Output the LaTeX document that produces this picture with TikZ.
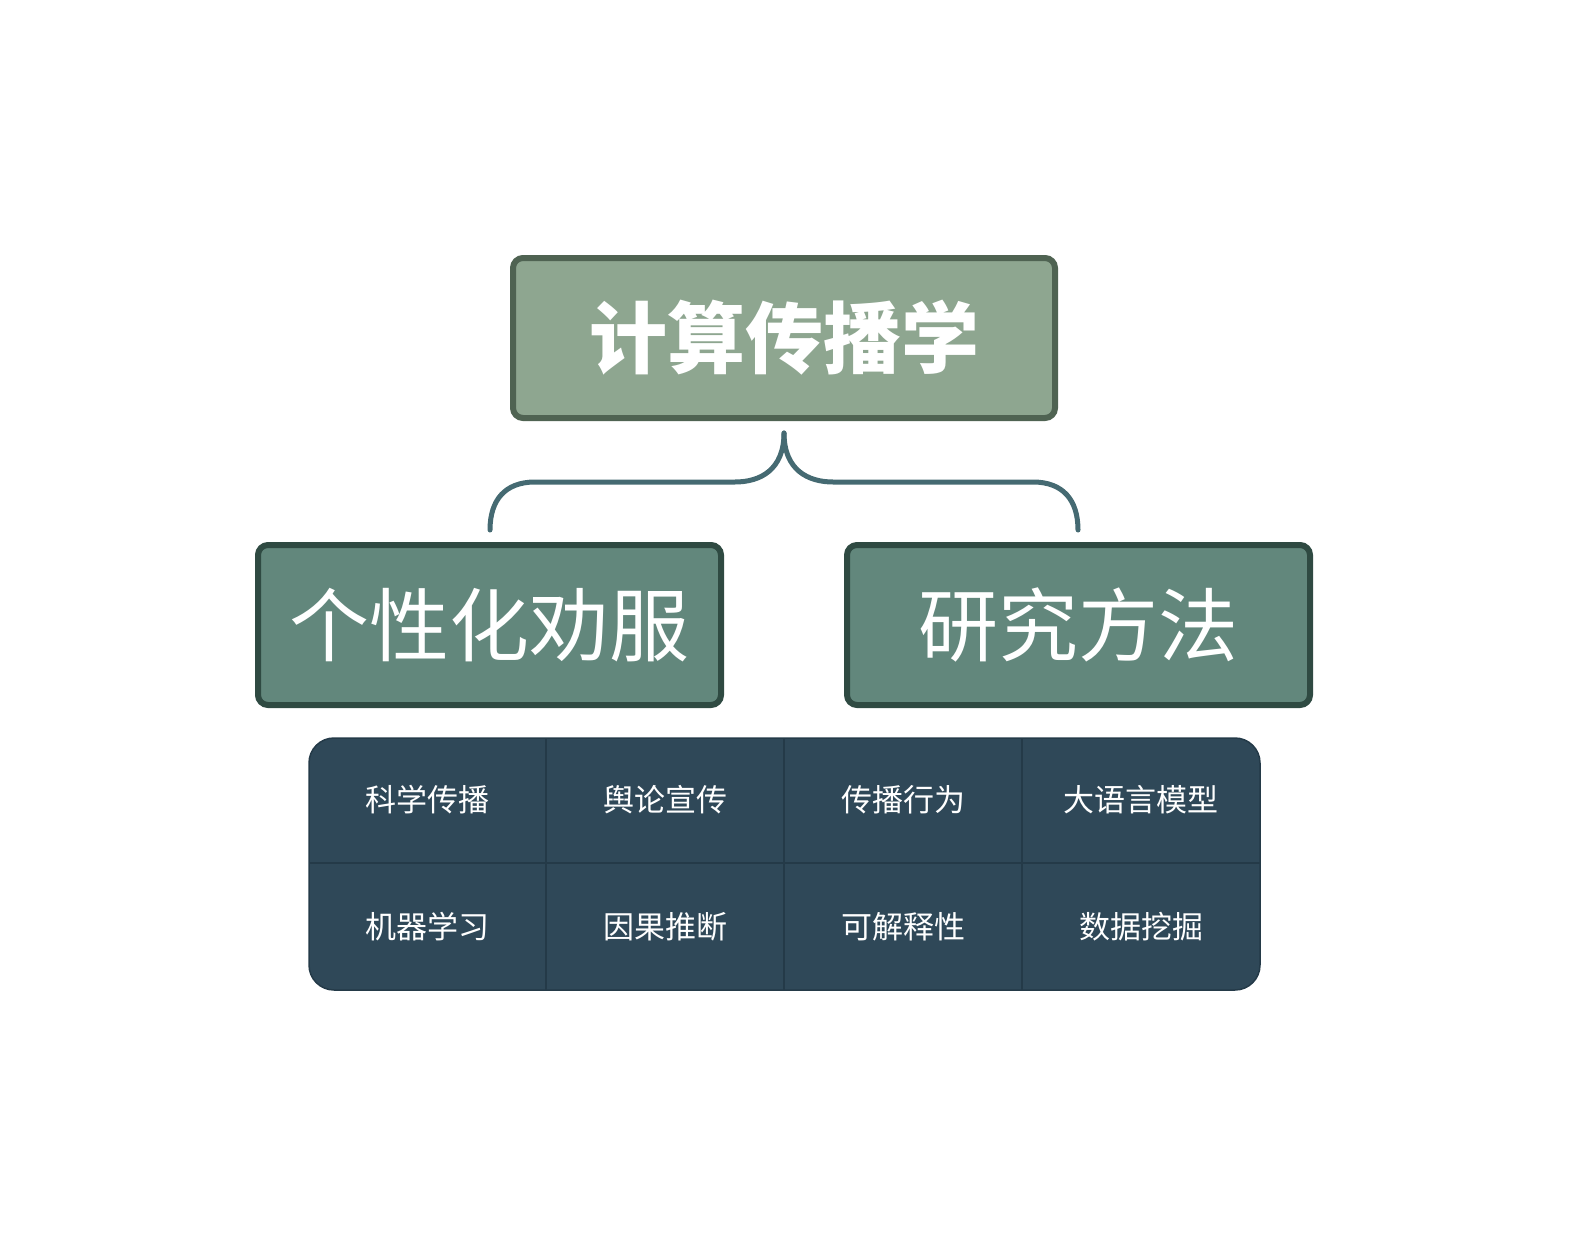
\documentclass[tikz,border=0pt]{standalone}
\usepackage{fontspec}
\newfontfamily\cjk{Noto Sans CJK SC}
\definecolor{topfill}{HTML}{8EA690}
\definecolor{topline}{HTML}{4F6352}
\definecolor{midfill}{HTML}{62877C}
\definecolor{midline}{HTML}{2F4A42}
\definecolor{brace}{HTML}{456A72}
\definecolor{tab}{HTML}{2F4858}
\definecolor{tabline}{HTML}{243A48}
\tikzset{
 topbox/.style={draw=topline,fill=topfill,line width=6pt,rounded corners=10pt,minimum width=542pt,minimum height=160pt,text=white,font=\cjk\bfseries\fontsize{78}{80}\selectfont},
 midbox/.style={draw=midline,fill=midfill,line width=6pt,rounded corners=10pt,minimum width=463pt,minimum height=160pt,text=white,font=\cjk\fontsize{80}{82}\selectfont},
 cell/.style={text=white,font=\cjk\fontsize{31}{33}\selectfont},
 br/.style={draw=brace,line width=5pt,line cap=round}
}
\begin{document}
\begin{tikzpicture}[x=1pt,y=-1pt]
\useasboundingbox (0,0) rectangle (1576,1252);
\node[topbox] (top) at (784,338) {计算传播学};
\node[midbox] (l) at (489.5,625) {个性化劝服};
\node[midbox] (r) at (1078.5,625) {研究方法};
\coordinate (bt) at (784,433);
\coordinate (bl) at (490,530);
\coordinate (brr) at (1078,530);
\draw[br] (bt) .. controls (784,470) and (760,482) .. (735,482) -- (535,482) .. controls (505,482) and (490,500) .. (bl);
\draw[br] (bt) .. controls (784,470) and (808,482) .. (833,482) -- (1033,482) .. controls (1063,482) and (1078,500) .. (brr);
\fill[tab,rounded corners=25pt] (309,738) rectangle (1260,990);
\draw[tabline,line width=1.5pt] (309,863) -- (1260,863);
\foreach \x in {546,784,1022} \draw[tabline,line width=1.5pt] (\x,738) -- (\x,990);
\draw[tabline,line width=1.5pt,rounded corners=25pt] (309,738) rectangle (1260,990);
\node[cell] (c1) at (427,800) {科学传播};
\node[cell] (c2) at (665,800) {舆论宣传};
\node[cell] (c3) at (903,800) {传播行为};
\node[cell] (c4) at (1141,800) {大语言模型};
\node[cell] (c5) at (427,927) {机器学习};
\node[cell] (c6) at (665,927) {因果推断};
\node[cell] (c7) at (903,927) {可解释性};
\node[cell] (c8) at (1141,927) {数据挖掘};
\end{tikzpicture}
\end{document}
